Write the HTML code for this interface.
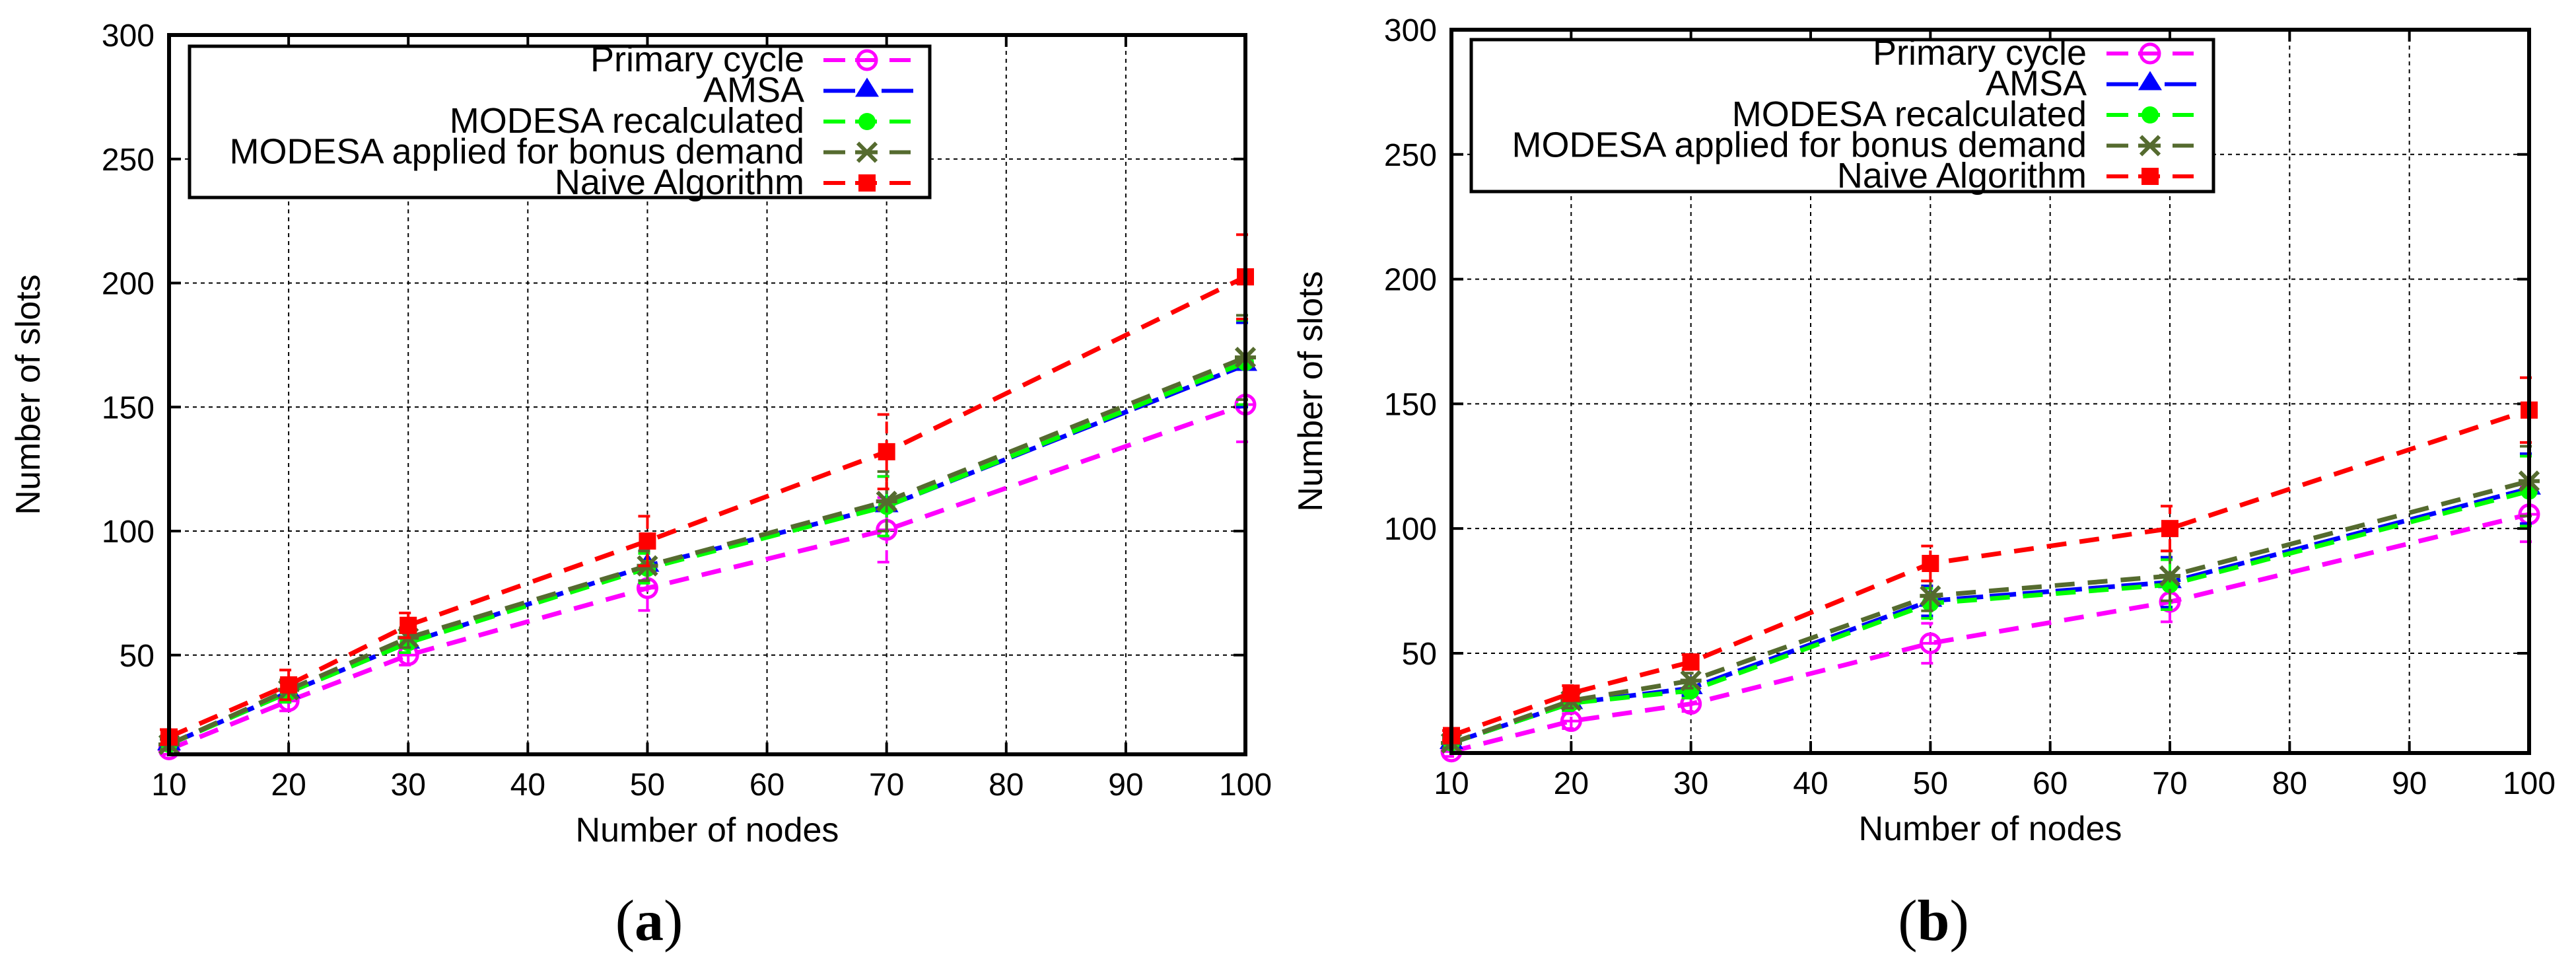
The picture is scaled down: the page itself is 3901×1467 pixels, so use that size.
<!DOCTYPE html>
<html><head><meta charset="utf-8"><style>
html,body{margin:0;padding:0;background:#fff;}
svg{display:block;}
text{font-family:"Liberation Sans",sans-serif;}
</style></head><body>
<svg id="chart" width="3901" height="1467" viewBox="0 0 3901 1467" xmlns="http://www.w3.org/2000/svg"></svg>
<script>
const xCategories = [10, 20, 30, 50, 70, 100];
const xTicks = [10, 20, 30, 40, 50, 60, 70, 80, 90, 100];
const yTicks = [50, 100, 150, 200, 250, 300];
const seriesNames = ["Primary cycle", "AMSA", "MODESA recalculated", "MODESA applied for bonus demand", "Naive Algorithm"];
// panel (a)
const aPrimary = [12, 31.5, 50, 77, 100.5, 151];
const aAmsa = [14, 35, 55, 86, 110, 167];
const aModesaRec = [14, 35, 55, 85, 110, 168];
const aModesaBonus = [14, 36, 57, 86, 112, 170];
const aNaive = [17, 38, 62, 96, 132, 202.5];
const aPrimaryErr = [2, 4, 4, 9, 13, 15];
const aNaiveErr = [3, 6, 5, 10, 15, 17];
const aOtherErr = [2, 4, 4, 6, 12, 17];
// panel (b)
const bPrimary = [10.6, 22.8, 29.7, 54, 70.6, 105.7];
const bAmsa = [14, 30, 36, 71, 78.5, 116];
const bModesaRec = [14, 30, 35, 70, 77.5, 115];
const bModesaBonus = [14, 31, 39, 73, 81, 119];
const bNaive = [17, 34, 46.5, 86, 100, 147.5];
const bPrimaryErr = [2, 3, 3, 8, 8, 11];
const bNaiveErr = [2, 3, 3, 7, 9, 13];
const bOtherErr = [2, 3, 3, 6, 10, 14];

const NS = "http://www.w3.org/2000/svg";
const svg = document.getElementById("chart");
function mk(tag, attrs, parent) {
  const e = document.createElementNS(NS, tag);
  for (const k in attrs) e.setAttribute(k, attrs[k]);
  (parent || svg).appendChild(e);
  return e;
}
const colors = ["#ff00ff", "#0000ff", "#00ff00", "#556b2f", "#ff0000"];
const dashes = ["30 20", "40 10", "30 20", "30 20", "30 20"];

function marker(g, type, cx, cy, color) {
  let m;
  if (type === 0) {
    m = mk("g", {}, g);
    mk("circle", {cx: cx, cy: cy, r: 14, fill: "none", stroke: color, "stroke-width": 5}, m);
    mk("line", {x1: cx - 14, y1: cy, x2: cx + 14, y2: cy, stroke: color, "stroke-width": 4}, m);
  } else if (type === 1) {
    m = mk("polygon", {points: `${cx},${cy - 20} ${cx - 18},${cy + 9} ${cx + 18},${cy + 9}`, fill: color}, g);
  } else if (type === 2) {
    m = mk("circle", {cx: cx, cy: cy, r: 13, fill: color}, g);
  } else if (type === 3) {
    m = mk("g", {}, g);
    mk("path", {d: `M${cx - 14},${cy - 14}L${cx + 14},${cy + 14}M${cx - 14},${cy + 14}L${cx + 14},${cy - 14}M${cx - 16},${cy}L${cx + 16},${cy}`, stroke: color, "stroke-width": 6}, m);
  } else {
    m = mk("rect", {x: cx - 13, y: cy - 13, width: 26, height: 26, fill: color}, g);
  }
  
  
}

function panel(cfg) {
  const g = mk("g", {});
  
  
  const L = cfg.left, R = cfg.right, T = cfg.top, B = cfg.bottom;
  const xs = v => L + (v - 10) / 90 * (R - L);
  const ys = v => B - (v - 10) / 290 * (B - T);
  xTicks.forEach(t => {
    if (t > 10 && t < 100) {
      const l = mk("line", {x1: xs(t), y1: T, x2: xs(t), y2: B, stroke: "#000", "stroke-width": 2, "stroke-dasharray": "6 6"}, g);
      
      
    }
    mk("line", {x1: xs(t), y1: B, x2: xs(t), y2: B - 18, stroke: "#000", "stroke-width": 4}, g);
    mk("line", {x1: xs(t), y1: T, x2: xs(t), y2: T + 18, stroke: "#000", "stroke-width": 4}, g);
    const tx = mk("text", {x: xs(t), y: B + 62, "font-size": 48, "text-anchor": "middle"}, g);
    tx.textContent = t;
    
    
  });
  yTicks.forEach(t => {
    if (t < 300) {
      const l = mk("line", {x1: L, y1: ys(t), x2: R, y2: ys(t), stroke: "#000", "stroke-width": 2, "stroke-dasharray": "6 6"}, g);
      
      
    }
    mk("line", {x1: L, y1: ys(t), x2: L + 18, y2: ys(t), stroke: "#000", "stroke-width": 4}, g);
    mk("line", {x1: R, y1: ys(t), x2: R - 18, y2: ys(t), stroke: "#000", "stroke-width": 4}, g);
    const tx = mk("text", {x: L - 22, y: ys(t) + 17, "font-size": 48, "text-anchor": "end"}, g);
    tx.textContent = t;
    
    
  });
  cfg.series.forEach((vals, si) => {
    const sg = mk("g", {}, g);
    
    
    const err = cfg.errs[si];
    vals.forEach((v, i) => {
      const x = xs(xCategories[i]);
      const eb = mk("path", {d: `M${x},${ys(v - err[i])}V${ys(v + err[i])}M${x - 14},${ys(v - err[i])}H${x + 14}M${x - 14},${ys(v + err[i])}H${x + 14}`, stroke: colors[si], "stroke-width": 4, "stroke-dasharray": "18 10", fill: "none"}, sg);
      
      
    });
    const pts = vals.map((v, i) => `${xs(xCategories[i])},${ys(v)}`).join(" ");
    const pl = mk("polyline", {points: pts, fill: "none", stroke: colors[si], "stroke-width": 7, "stroke-dasharray": dashes[si]}, sg);
    
    
    vals.forEach((v, i) => marker(sg, si, xs(xCategories[i]), ys(v), colors[si]));
  });
  const fr = mk("rect", {x: L, y: T, width: R - L, height: B - T, fill: "none", stroke: "#000", "stroke-width": 6}, g);
  
  
  const lg = mk("g", {}, g);
  
  
  mk("rect", {x: cfg.lgL, y: cfg.lgT, width: cfg.lgR - cfg.lgL, height: cfg.lgB - cfg.lgT, fill: "#fff", stroke: "#000", "stroke-width": 5}, lg);
  seriesNames.forEach((n, si) => {
    const y = cfg.lgT + 21 + si * 46.5;
    const e = mk("g", {}, lg);
    
    
    const t = mk("text", {x: cfg.lgText, y: y + 17, "font-size": 54, "text-anchor": "end"}, e);
    t.textContent = n;
    const a = cfg.lgLine0, b = cfg.lgLine1, c = (a + b) / 2;
    const d = si === 1 ? `M${a},${y}H${c - 18}M${c + 22},${y}H${b + 4}` : `M${a},${y}H${a + 33}M${c - 18},${y}H${c + 15}M${b - 32},${y}H${b}`;
    mk("path", {d: d, stroke: colors[si], "stroke-width": 6, fill: "none"}, e);
    marker(e, si, c, y, colors[si]);
  });
  const xt = mk("text", {x: (L + R) / 2, y: B + 132, "font-size": 52, "text-anchor": "middle"}, g);
  xt.textContent = "Number of nodes";
  
  
  const yt = mk("text", {x: 0, y: 0, "font-size": 52, "text-anchor": "middle", transform: `translate(${L - 196},${(T + B) / 2}) rotate(-90)`}, g);
  yt.textContent = "Number of slots";
  
  
  const cap = mk("text", {x: cfg.capX, y: 1423, "font-size": 88, "text-anchor": "middle", style: "font-family:'Liberation Serif',serif"}, g);
  cap.innerHTML = '(<tspan font-weight="bold">' + cfg.cap + '</tspan>)';
  
  
}

panel({name: "panel-a", left: 256, right: 1886, top: 53, bottom: 1142,
  series: [aPrimary, aAmsa, aModesaRec, aModesaBonus, aNaive],
  errs: [aPrimaryErr, aOtherErr, aOtherErr, aOtherErr, aNaiveErr],
  lgL: 287, lgT: 70, lgR: 1408, lgB: 299, lgText: 1218, lgLine0: 1247, lgLine1: 1379, cap: "a", capX: 983});
panel({name: "panel-b", left: 2198, right: 3830, top: 45, bottom: 1140,
  series: [bPrimary, bAmsa, bModesaRec, bModesaBonus, bNaive],
  errs: [bPrimaryErr, bOtherErr, bOtherErr, bOtherErr, bNaiveErr],
  lgL: 2228, lgT: 60, lgR: 3352, lgB: 290, lgText: 3160, lgLine0: 3190, lgLine1: 3322, cap: "b", capX: 2928});
</script>
</body></html>
